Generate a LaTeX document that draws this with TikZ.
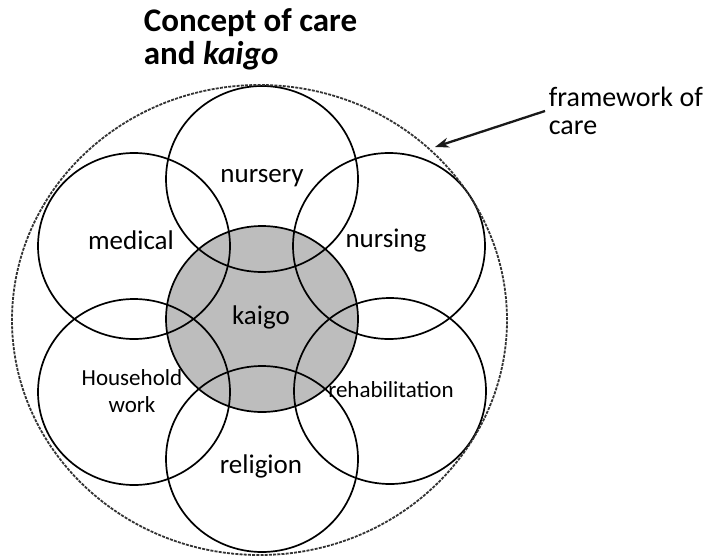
\documentclass[tikz,border=0pt]{standalone}
\usepackage{fontspec}
\setmainfont{Carlito}
\usetikzlibrary{arrows.meta}

\begin{document}
\begin{tikzpicture}[x=1pt, y=-1pt, line width=1.7pt,
  ring/.style={draw=black, x radius=96pt, y radius=93pt},
  lbl/.style={font=\fontsize{27}{30}\selectfont, inner sep=1pt},
  small/.style={font=\fontsize{23}{27}\selectfont, inner sep=1pt, align=center}]
			\useasboundingbox (0,0) rectangle (708,559);
			% kaigo in the middle, six fields around it
			\coordinate (c) at (262,319);
			\fill [black!26] (c) ellipse [x radius=96pt, y radius=93pt];
			\draw [ring] (262,179) ellipse [];
			\draw [ring] (134,246) ellipse [];
			\draw [ring] (389,246) ellipse [];
			\draw [ring] (134,392) ellipse [];
			\draw [ring] (390,391) ellipse [];
			\draw [ring] (262,459) ellipse [];
			\draw [ring] (c) ellipse [];
			% framework of care
			\draw [line width=1.8pt, dash pattern=on 3pt off 1.2pt, black!80]
			  (259.5,320) ellipse [x radius=247.5pt, y radius=235pt];
			\coordinate (tip) at (435,147);
			\node[lbl] (nursery) at (262,178) {nursery};
			\node[lbl] (medical) at (131,240) {medical};
			\node[lbl] (nursing) at (386,241) {nursing};
			\node[lbl] (kaigo) at (261,317) {kaigo};
			\node[small] (house) at (132,391) {Household\\work};
			\node[small] (rehab) at (391,390) {rehabilitation};
			\node[lbl] (religion) at (261,466) {religion};
			\node[anchor=north west, inner sep=0pt, align=left,
			  font=\fontsize{33}{33}\selectfont\bfseries] (title) at (143,8)
			  {Concept of care\\and \textit{kaigo}};
			\node[anchor=west, align=left, inner sep=3pt,
			  font=\fontsize{28}{28}\selectfont] (frame) at (545,111)
			  {framework of\\care};
			\draw [-{Stealth[length=14pt, width=10pt]}, line width=2.3pt, black!90]
			  (frame.west) -- (tip);
\end{tikzpicture}
\end{document}
